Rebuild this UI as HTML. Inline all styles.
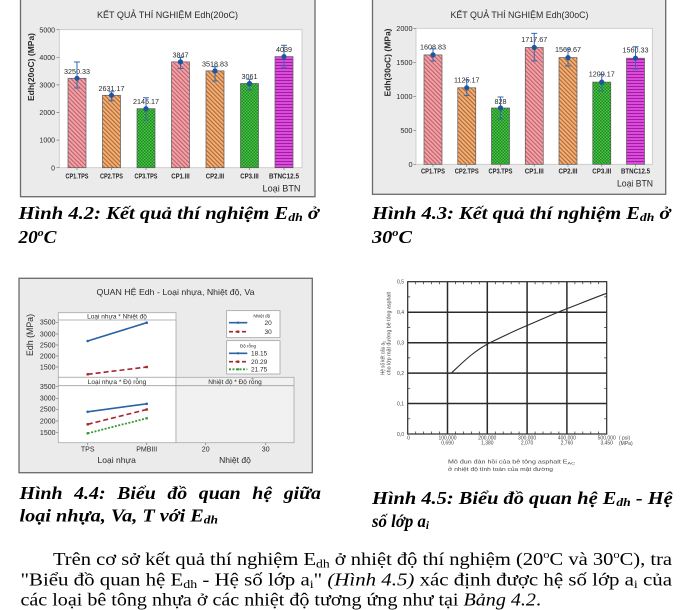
<!DOCTYPE html>
<html><head><meta charset="utf-8"><style>
html,body{margin:0;padding:0;background:#fff;}
svg{display:block;}
.s{font-family:"Liberation Sans","DejaVu Sans",sans-serif;fill:#2a2a2a;}
.c{font-family:"Liberation Serif","DejaVu Serif",serif;font-weight:bold;font-style:italic;fill:#000;font-size:18px;}
.p{font-family:"Liberation Serif","DejaVu Serif",serif;fill:#000;font-size:18px;}
.t4{font-family:"Liberation Sans","DejaVu Sans",sans-serif;fill:#444;font-size:5px;}
</style></head><body>
<svg width="680" height="610" viewBox="0 0 680 610" xmlns="http://www.w3.org/2000/svg">
<defs>
<pattern id="pk" width="3" height="3" patternUnits="userSpaceOnUse" patternTransform="rotate(-45)"><rect width="3" height="3" fill="#f2a3a8"/><rect width="1.1" height="3" fill="#c0606a"/></pattern>
<pattern id="po" width="3" height="3" patternUnits="userSpaceOnUse" patternTransform="rotate(-45)"><rect width="3" height="3" fill="#f2b07a"/><rect width="1.1" height="3" fill="#b0682e"/></pattern>
<pattern id="pg" width="3" height="3" patternUnits="userSpaceOnUse"><rect width="3" height="3" fill="#48c448"/><rect width="1.5" height="1.5" fill="#1f8a1f"/><rect x="1.5" y="1.5" width="1.5" height="1.5" fill="#1f8a1f"/></pattern>
<pattern id="pm" width="3" height="3" patternUnits="userSpaceOnUse"><rect width="3" height="3" fill="#dc4cdc"/><rect y="2" width="3" height="1" fill="#a01ea0"/></pattern>
</defs>
<rect width="680" height="610" fill="#fff"/>

<!-- ========== CHART 1 ========== -->
<rect x="20.5" y="-2" width="294.5" height="198.7" fill="#ebebeb" stroke="#6a6a6a" stroke-width="1.3"/>
<rect x="59.3" y="29.7" width="242.7" height="138" fill="#fff" stroke="#c4c4c4" stroke-width="0.8"/>
<text class="s" x="167.5" y="18.2" text-anchor="middle" font-size="9" textLength="141" lengthAdjust="spacingAndGlyphs">KẾT QUẢ THÍ NGHIỆM Edh(20oC)</text>
<text class="s" transform="translate(34,67) rotate(-90)" text-anchor="middle" font-size="8.5" font-weight="bold" textLength="68" lengthAdjust="spacingAndGlyphs">Edh(20oC) (MPa)</text>
<g stroke="#777" stroke-width="0.7">
<path d="M56.5,29.7H59.3M56.5,57.3H59.3M56.5,84.9H59.3M56.5,112.5H59.3M56.5,140.1H59.3M56.5,167.7H59.3"/>
<path d="M77,167.7V170M111.5,167.7V170M146,167.7V170M180.5,167.7V170M215,167.7V170M249.5,167.7V170M284,167.7V170"/>
</g>
<g class="s" font-size="7" text-anchor="end" fill="#222">
<text x="55" y="32.3">5000</text><text x="55" y="59.9">4000</text><text x="55" y="87.5">3000</text><text x="55" y="115.1">2000</text><text x="55" y="142.7">1000</text><text x="55" y="170.3">0</text>
</g>
<g stroke="#5a5a5a" stroke-width="0.7">
<rect x="68" y="78.3" width="18" height="89.4" fill="url(#pk)"/>
<rect x="102.5" y="95.3" width="18" height="72.4" fill="url(#po)"/>
<rect x="137" y="108.7" width="18" height="59" fill="url(#pg)"/>
<rect x="171.5" y="61.9" width="18" height="105.8" fill="url(#pk)"/>
<rect x="206" y="70.9" width="18" height="96.8" fill="url(#po)"/>
<rect x="240.5" y="83.5" width="18" height="84.2" fill="url(#pg)"/>
<rect x="275" y="56.6" width="18" height="111.1" fill="url(#pm)"/>
</g>
<g class="s" font-size="7.2" text-anchor="middle" fill="#333">
<text x="77" y="73.8">3250.33</text><text x="111.5" y="90.8">2631.17</text><text x="146" y="104.2">2145.17</text><text x="180.5" y="57.4">3847</text><text x="215" y="66.4">3518.83</text><text x="249.5" y="79">3061</text><text x="284" y="52.1">4039</text>
</g>
<path d="M77,62V88M74,62H80M74,88H80M111.5,91.7V100.7M108.5,91.7H114.5M108.5,100.7H114.5M146,97.7V120M143,97.7H149M143,120H149M180.5,57.5V68.5M177.5,57.5H183.5M177.5,68.5H183.5M215,66.7V81M212,66.7H218M212,81H218M249.5,79.3V90M246.5,79.3H252.5M246.5,90H252.5M284,45.3V67.7M281,45.3H287M281,67.7H287" stroke="#3a68aa" stroke-width="1" fill="none"/>
<g fill="#1f56a0">
<circle cx="77" cy="78.3" r="2.6"/><circle cx="111.5" cy="95.3" r="2.6"/><circle cx="146" cy="108.7" r="2.6"/><circle cx="180.5" cy="61.9" r="2.6"/><circle cx="215" cy="70.9" r="2.6"/><circle cx="249.5" cy="83.5" r="2.6"/><circle cx="284" cy="56.6" r="2.6"/>
</g>
<g class="s" font-size="7" text-anchor="middle" fill="#1a1a1a" font-weight="bold">
<text x="77" y="178.3" textLength="23" lengthAdjust="spacingAndGlyphs">CP1.TPS</text>
<text x="111.5" y="178.3" textLength="23" lengthAdjust="spacingAndGlyphs">CP2.TPS</text>
<text x="146" y="178.3" textLength="23" lengthAdjust="spacingAndGlyphs">CP3.TPS</text>
<text x="180.5" y="178.3" textLength="18.5" lengthAdjust="spacingAndGlyphs">CP1.III</text>
<text x="215" y="178.3" textLength="18.5" lengthAdjust="spacingAndGlyphs">CP2.III</text>
<text x="249.5" y="178.3" textLength="18.5" lengthAdjust="spacingAndGlyphs">CP3.III</text>
<text x="284" y="178.3" textLength="30" lengthAdjust="spacingAndGlyphs">BTNC12.5</text>
</g>
<text class="s" x="300.5" y="191.5" text-anchor="end" font-size="9" textLength="38" lengthAdjust="spacingAndGlyphs">Loại BTN</text>

<!-- ========== CHART 2 ========== -->
<rect x="372.5" y="-2" width="293.2" height="196.3" fill="#ebebeb" stroke="#6a6a6a" stroke-width="1.3"/>
<rect x="416" y="28.3" width="236.3" height="136" fill="#fff" stroke="#c4c4c4" stroke-width="0.8"/>
<text class="s" x="519.5" y="18.2" text-anchor="middle" font-size="9" textLength="138" lengthAdjust="spacingAndGlyphs">KẾT QUẢ THÍ NGHIỆM Edh(30oC)</text>
<text class="s" transform="translate(390.7,62.5) rotate(-90)" text-anchor="middle" font-size="8.5" font-weight="bold" textLength="68" lengthAdjust="spacingAndGlyphs">Edh(30oC) (MPa)</text>
<g stroke="#777" stroke-width="0.7">
<path d="M413.3,28.3H416M413.3,62.3H416M413.3,96.3H416M413.3,130.3H416M413.3,164.3H416"/>
<path d="M433,164.3V166.6M466.75,164.3V166.6M500.5,164.3V166.6M534.25,164.3V166.6M568,164.3V166.6M601.75,164.3V166.6M635.5,164.3V166.6"/>
</g>
<g class="s" font-size="7.3" text-anchor="end" fill="#222">
<text x="412.5" y="30.9">2000</text><text x="412.5" y="64.9">1500</text><text x="412.5" y="98.9">1000</text><text x="412.5" y="132.9">500</text><text x="412.5" y="166.9">0</text>
</g>
<g stroke="#5a5a5a" stroke-width="0.7">
<rect x="424" y="54.9" width="18" height="109.4" fill="url(#pk)"/>
<rect x="457.75" y="87.8" width="18" height="76.5" fill="url(#po)"/>
<rect x="491.5" y="108" width="18" height="56.3" fill="url(#pg)"/>
<rect x="525.25" y="47.5" width="18" height="116.8" fill="url(#pk)"/>
<rect x="559" y="57.6" width="18" height="106.7" fill="url(#po)"/>
<rect x="592.75" y="82.1" width="18" height="82.2" fill="url(#pg)"/>
<rect x="626.5" y="58.2" width="18" height="106.1" fill="url(#pm)"/>
</g>
<g class="s" font-size="7.2" text-anchor="middle" fill="#333">
<text x="433" y="49.4">1608.83</text><text x="466.75" y="82.3">1125.17</text><text x="500.5" y="104">828</text><text x="534.25" y="42">1717.67</text><text x="568" y="52.1">1569.67</text><text x="601.75" y="76.6">1209.17</text><text x="635.5" y="52.7">1560.33</text>
</g>
<path d="M433,48.7V61M430,48.7H436M430,61H436M466.75,80V95.6M463.75,80H469.75M463.75,95.6H469.75M500.5,97V119M497.5,97H503.5M497.5,119H503.5M534.25,33.4V61M531.25,33.4H537.25M531.25,61H537.25M568,49V66M565,49H571M565,66H571M601.75,74.5V90.9M598.75,74.5H604.75M598.75,90.9H604.75M635.5,46.7V69.1M632.5,46.7H638.5M632.5,69.1H638.5" stroke="#3a68aa" stroke-width="1" fill="none"/>
<g fill="#1f56a0">
<circle cx="433" cy="54.9" r="2.6"/><circle cx="466.75" cy="87.8" r="2.6"/><circle cx="500.5" cy="108" r="2.6"/><circle cx="534.25" cy="47.5" r="2.6"/><circle cx="568" cy="57.6" r="2.6"/><circle cx="601.75" cy="82.1" r="2.6"/><circle cx="635.5" cy="58.2" r="2.6"/>
</g>
<g class="s" font-size="7" text-anchor="middle" fill="#1a1a1a" font-weight="bold">
<text x="433" y="173.3" textLength="24" lengthAdjust="spacingAndGlyphs">CP1.TPS</text>
<text x="466.75" y="173.3" textLength="24" lengthAdjust="spacingAndGlyphs">CP2.TPS</text>
<text x="500.5" y="173.3" textLength="24" lengthAdjust="spacingAndGlyphs">CP3.TPS</text>
<text x="534.25" y="173.3" textLength="19" lengthAdjust="spacingAndGlyphs">CP1.III</text>
<text x="568" y="173.3" textLength="19" lengthAdjust="spacingAndGlyphs">CP2.III</text>
<text x="601.75" y="173.3" textLength="19" lengthAdjust="spacingAndGlyphs">CP3.III</text>
<text x="635.5" y="173.3" textLength="29" lengthAdjust="spacingAndGlyphs">BTNC12.5</text>
</g>
<text class="s" x="653" y="186.5" text-anchor="end" font-size="9" textLength="36" lengthAdjust="spacingAndGlyphs">Loại BTN</text>

<!-- ========== CAPTIONS 4.2 / 4.3 ========== -->
<text class="c" x="18.5" y="219" textLength="300.5" lengthAdjust="spacingAndGlyphs">Hình 4.2: Kết quả thí nghiệm E<tspan font-size="12" dy="2">dh</tspan><tspan dy="-2"> ở</tspan></text>
<text class="c" x="18.5" y="243" textLength="38" lengthAdjust="spacingAndGlyphs">20<tspan font-size="11" dy="-7">o</tspan><tspan dy="7">C</tspan></text>
<text class="c" x="372" y="219" textLength="298.5" lengthAdjust="spacingAndGlyphs">Hình 4.3: Kết quả thí nghiệm E<tspan font-size="12" dy="2">dh</tspan><tspan dy="-2"> ở</tspan></text>
<text class="c" x="372" y="243" textLength="40" lengthAdjust="spacingAndGlyphs">30<tspan font-size="11" dy="-7">o</tspan><tspan dy="7">C</tspan></text>

<!-- ========== CHART 3 ========== -->
<rect x="19" y="278.3" width="293.3" height="194.4" fill="#ebebeb" stroke="#6a6a6a" stroke-width="1.3"/>
<text class="s" x="175.5" y="294.8" text-anchor="middle" font-size="8.5" textLength="158" lengthAdjust="spacingAndGlyphs">QUAN HỆ Edh - Loại nhựa, Nhiệt độ, Va</text>
<text class="s" transform="translate(33,335) rotate(-90)" text-anchor="middle" font-size="9" textLength="42" lengthAdjust="spacingAndGlyphs">Edh (MPa)</text>
<rect x="58.3" y="312.7" width="117.7" height="64.6" fill="#fff" stroke="#a8a8a8" stroke-width="0.8"/>
<rect x="58.3" y="377.3" width="117.7" height="65.4" fill="#fff" stroke="#a8a8a8" stroke-width="0.8"/>
<rect x="176" y="377.3" width="118" height="65.4" fill="#f1f1f1" stroke="#a8a8a8" stroke-width="0.8"/>
<path d="M58.3,320H176M58.3,385.7H294" stroke="#a0a0a0" stroke-width="0.8"/>
<g class="s" font-size="6.5" text-anchor="middle" fill="#333">
<text x="117" y="318.6">Loại nhựa * Nhiệt độ</text>
<text x="117" y="383.9">Loại nhựa * Độ rỗng</text>
<text x="235" y="383.9">Nhiệt độ * Độ rỗng</text>
</g>
<g class="s" font-size="7" text-anchor="end">
<text x="55.5" y="324.7">3500</text><text x="55.5" y="336.4">3000</text><text x="55.5" y="347.4">2500</text><text x="55.5" y="358.4">2000</text><text x="55.5" y="369.4">1500</text>
<text x="55.5" y="389.1">3500</text><text x="55.5" y="400.7">3000</text><text x="55.5" y="411.7">2500</text><text x="55.5" y="423.4">2000</text><text x="55.5" y="435.1">1500</text>
</g>
<path d="M56,322.3H58.3M56,334H58.3M56,345H58.3M56,356H58.3M56,367H58.3M56,386.7H58.3M56,398.3H58.3M56,409.3H58.3M56,421H58.3M56,432.7H58.3M87.7,442.7V445M146.7,442.7V445M205.7,442.7V445M265.7,442.7V445" stroke="#777" stroke-width="0.7"/>
<path d="M87.7,341L146.7,322.7" stroke="#2a62a6" stroke-width="1.6" fill="none"/>
<path d="M87.7,374.3L146.7,367" stroke="#a3262c" stroke-width="1.6" stroke-dasharray="5,3" fill="none"/>
<path d="M87.7,411.8L146.7,403.8" stroke="#2a62a6" stroke-width="1.6" fill="none"/>
<path d="M87.7,424.3L146.7,409.5" stroke="#a3262c" stroke-width="1.6" stroke-dasharray="5,3" fill="none"/>
<path d="M87.7,433.3L146.7,418.3" stroke="#3a9a3a" stroke-width="1.8" stroke-dasharray="2,1.5" fill="none"/>
<g fill="#2a62a6"><circle cx="87.7" cy="341" r="1.3"/><circle cx="146.7" cy="322.7" r="1.3"/><circle cx="87.7" cy="411.8" r="1.3"/><circle cx="146.7" cy="403.8" r="1.3"/></g>
<g fill="#a3262c"><rect x="86.5" y="373.1" width="2.4" height="2.4"/><rect x="145.5" y="365.8" width="2.4" height="2.4"/><rect x="86.5" y="423.1" width="2.4" height="2.4"/><rect x="145.5" y="408.3" width="2.4" height="2.4"/></g>
<g fill="#3a9a3a"><circle cx="87.7" cy="433.3" r="1.3"/><circle cx="146.7" cy="418.3" r="1.3"/></g>
<g class="s" font-size="7" text-anchor="middle">
<text x="87.7" y="451.5">TPS</text><text x="146.7" y="451.5">PMBIII</text><text x="205.7" y="451.5">20</text><text x="265.7" y="451.5">30</text>
</g>
<g class="s" font-size="8.5" text-anchor="middle">
<text x="116.7" y="463.2">Loại nhựa</text><text x="235" y="463.2">Nhiệt độ</text>
</g>
<!-- legends -->
<rect x="226.7" y="310.7" width="53.3" height="27" fill="#fff" stroke="#999" stroke-width="0.7"/>
<text class="s" x="261.7" y="317.5" font-size="4.5" text-anchor="middle">Nhiệt độ</text>
<path d="M229,322.7H247.3" stroke="#2a62a6" stroke-width="1.6"/><circle cx="238" cy="322.7" r="1.2" fill="#2a62a6"/>
<path d="M229,331.7H247.3" stroke="#a3262c" stroke-width="1.6" stroke-dasharray="4,2.5"/><rect x="236.8" y="330.5" width="2.4" height="2.4" fill="#a3262c"/>
<text class="s" x="264.5" y="325.1" font-size="6.5">20</text>
<text class="s" x="264.5" y="334.1" font-size="6.5">30</text>
<rect x="226.7" y="340.7" width="53.3" height="33.3" fill="#fff" stroke="#999" stroke-width="0.7"/>
<text class="s" x="248" y="347.5" font-size="4.5" text-anchor="middle">Độ rỗng</text>
<path d="M229,353.3H247.3" stroke="#2a62a6" stroke-width="1.6"/><circle cx="238" cy="353.3" r="1.2" fill="#2a62a6"/>
<path d="M229,361.7H247.3" stroke="#a3262c" stroke-width="1.6" stroke-dasharray="4,2.5"/><rect x="236.8" y="360.5" width="2.4" height="2.4" fill="#a3262c"/>
<path d="M229,369.3H247.3" stroke="#3a9a3a" stroke-width="1.8" stroke-dasharray="2,1.5"/><circle cx="238" cy="369.3" r="1.2" fill="#3a9a3a"/>
<text class="s" x="251" y="355.7" font-size="6.5">18.15</text>
<text class="s" x="251" y="364.1" font-size="6.5">20.29</text>
<text class="s" x="251" y="371.7" font-size="6.5">21.75</text>

<!-- ========== CHART 4 ========== -->
<g fill="none" stroke="#2a2a2a">
<rect x="407.7" y="281.7" width="199" height="152.3" stroke-width="1.2"/>
<path d="M447.5,281.7V434M487.3,281.7V434M527.1,281.7V434M566.9,281.7V434M407.7,312.2H606.7M407.7,342.7H606.7M407.7,373.1H606.7M407.7,403.5H606.7" stroke-width="1.5"/>
<path d="M415.7,434v-2.5M423.6,434v-2.5M431.6,434v-2.5M439.5,434v-2.5M455.5,434v-2.5M463.4,434v-2.5M471.4,434v-2.5M479.3,434v-2.5M495.3,434v-2.5M503.2,434v-2.5M511.2,434v-2.5M519.1,434v-2.5M535.1,434v-2.5M543,434v-2.5M551,434v-2.5M558.9,434v-2.5M574.9,434v-2.5M582.8,434v-2.5M590.8,434v-2.5M598.7,434v-2.5M415.7,281.7v2.5M423.6,281.7v2.5M431.6,281.7v2.5M439.5,281.7v2.5M455.5,281.7v2.5M463.4,281.7v2.5M471.4,281.7v2.5M479.3,281.7v2.5M495.3,281.7v2.5M503.2,281.7v2.5M511.2,281.7v2.5M519.1,281.7v2.5M535.1,281.7v2.5M543,281.7v2.5M551,281.7v2.5M558.9,281.7v2.5M574.9,281.7v2.5M582.8,281.7v2.5M590.8,281.7v2.5M598.7,281.7v2.5M407.7,296.9h2.5M407.7,327.5h2.5M407.7,357.9h2.5M407.7,388.3h2.5M407.7,418.8h2.5M606.7,296.9h-2.5M606.7,327.5h-2.5M606.7,357.9h-2.5M606.7,388.3h-2.5M606.7,418.8h-2.5" stroke-width="0.7"/>
<path d="M451.7,372.7C462,363 475,350 490,342.7S515,330.5 526,326S553,314 566,309S595,297.5 606.7,293.3" stroke-width="1.1"/>
</g>
<g class="t4" text-anchor="end">
<text x="404" y="283.5">0,5</text><text x="404" y="314">0,4</text><text x="404" y="344.5">0,3</text><text x="404" y="375">0,2</text><text x="404" y="405.3">0,1</text><text x="404" y="435.8">0,0</text>
</g>
<g class="t4" text-anchor="middle">
<text x="408.5" y="439.5">0</text>
<text x="447.5" y="439.5">100,000</text><text x="447.5" y="444.5">0,690</text>
<text x="487.3" y="439.5">200,000</text><text x="487.3" y="444.5">1,380</text>
<text x="527.1" y="439.5">300,000</text><text x="527.1" y="444.5">2,070</text>
<text x="566.9" y="439.5">400,000</text><text x="566.9" y="444.5">2,760</text>
<text x="606.7" y="439.5">500,000</text><text x="606.7" y="444.5">3,450</text>
</g>
<text class="t4" x="619" y="439.5">( psi)</text>
<text class="t4" x="619" y="444.8">(MPa)</text>
<text class="t4" transform="translate(384.7,375) rotate(-90)" font-size="5.3" textLength="34" lengthAdjust="spacingAndGlyphs">Hệ số kết cấu a<tspan font-size="3.8" dy="1">1</tspan></text>
<text class="t4" transform="translate(390.4,375) rotate(-90)" font-size="5.3" textLength="83" lengthAdjust="spacingAndGlyphs">cho lớp mặt đường bê tông asphalt</text>
<text class="t4" x="448" y="463.5" font-size="5.5" textLength="127" lengthAdjust="spacingAndGlyphs">Mô đun đàn hồi của bê tông asphalt E<tspan font-size="3.8" dy="1">AC</tspan></text>
<text class="t4" x="448" y="471" font-size="5.5" textLength="105" lengthAdjust="spacingAndGlyphs">ở nhiệt độ tính toán của mặt đường</text>

<!-- ========== CAPTIONS 4.4 / 4.5 ========== -->
<text class="c" x="19.5" y="499" textLength="301.5" lengthAdjust="spacingAndGlyphs" word-spacing="6">Hình 4.4: Biểu đồ quan hệ giữa</text>
<text class="c" x="19.5" y="521.5" textLength="198.5" lengthAdjust="spacingAndGlyphs">loại nhựa, Va, T với E<tspan font-size="12" dy="2">dh</tspan></text>
<text class="c" x="372" y="504" textLength="300.7" lengthAdjust="spacingAndGlyphs">Hình 4.5: Biểu đồ quan hệ E<tspan font-size="12" dy="2">dh</tspan><tspan dy="-2"> - Hệ</tspan></text>
<text class="c" x="372" y="527" textLength="57" lengthAdjust="spacingAndGlyphs">số lớp a<tspan font-size="12" dy="2">i</tspan></text>

<!-- ========== PARAGRAPH ========== -->
<text class="p" x="53" y="565" textLength="619" lengthAdjust="spacingAndGlyphs">Trên cơ sở kết quả thí nghiệm E<tspan font-size="12" dy="2.5">dh</tspan><tspan dy="-2.5"> ở nhiệt độ thí nghiệm (20</tspan><tspan font-size="11" dy="-7">o</tspan><tspan dy="7">C và 30</tspan><tspan font-size="11" dy="-7">o</tspan><tspan dy="7">C), tra</tspan></text>
<text class="p" x="20.5" y="585.5" textLength="651.5" lengthAdjust="spacingAndGlyphs">"Biểu đồ quan hệ E<tspan font-size="12" dy="2.5">dh</tspan><tspan dy="-2.5"> - Hệ số lớp a</tspan><tspan font-size="12" dy="2.5">i</tspan><tspan dy="-2.5">" </tspan><tspan font-style="italic">(Hình 4.5)</tspan> xác định được hệ số lớp a<tspan font-size="12" dy="2.5">i</tspan><tspan dy="-2.5"> của</tspan></text>
<text class="p" x="20.5" y="605.5" textLength="520.5" lengthAdjust="spacingAndGlyphs">các loại bê tông nhựa ở các nhiệt độ tương ứng như tại <tspan font-style="italic">Bảng 4.2</tspan>.</text>
</svg>
</body></html>
